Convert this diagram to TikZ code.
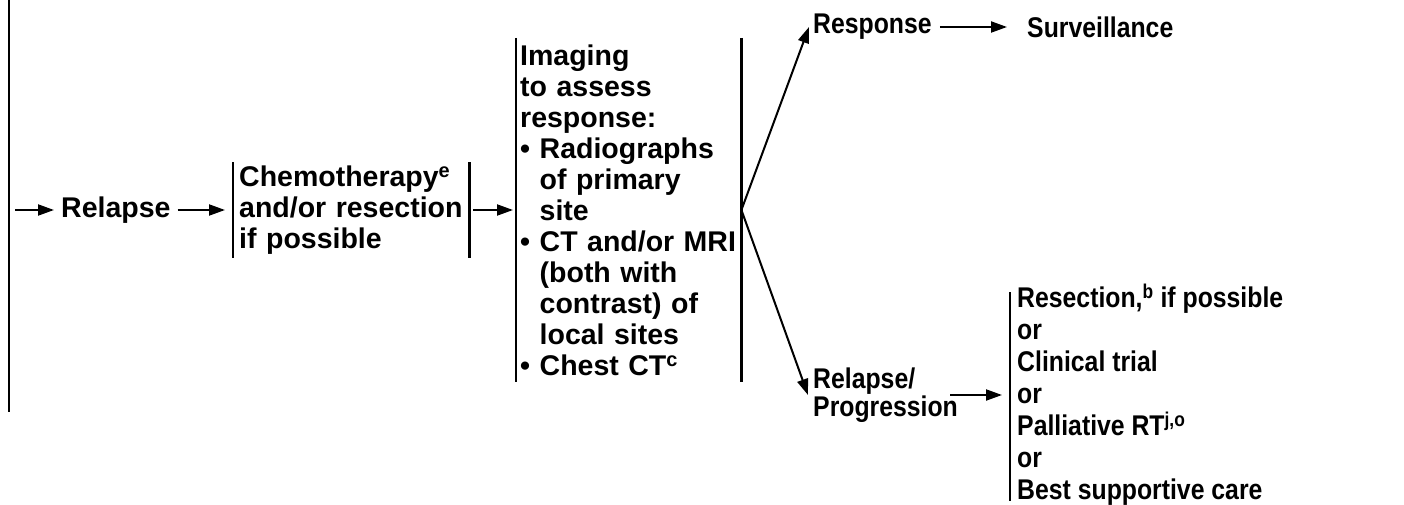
\documentclass[tikz,border=0pt]{standalone}
\usepackage{fontspec}
\setmainfont{Liberation Sans}
\newfontfamily\narrowsans{Liberation Sans}[FakeStretch=0.87]
\usetikzlibrary{arrows.meta}

\tikzset{
  txt/.style={inner sep=0pt, align=left, font=\fontsize{28.5}{31}\selectfont\bfseries},
  ntxt/.style={txt, font=\narrowsans\fontsize{28.5}{31}\selectfont\bfseries},
  arr/.style={line width=2pt, -{Triangle[length=16pt,width=11pt]}},
  bar/.style={line width=2.4pt},
}
\newcommand{\ind}{\hphantom{\textbullet\ }}

\begin{document}
\begin{tikzpicture}[x=1pt,y=1pt,yscale=-1]
\useasboundingbox (0,0) rectangle (1404,505);

%Straight Lines
\draw [bar] (9,0) -- (9,412);
\coordinate (entry) at (15,210);

% Text Node
\node [txt, inner xsep=7pt, anchor=west] (relapse) at (54,210) {Relapse};
% Text Node
\node [txt, inner xsep=6pt, anchor=west, text width=224pt, minimum height=95pt] (chemo) at (233,210) {Chemotherapy\textsuperscript{e}\\and/or resection\\if possible};
% Text Node
\node [txt, inner xsep=4pt, anchor=west, text width=217pt, minimum height=344pt] (img) at (516,210) {Imaging\\to assess\\response:\\\textbullet\ Radiographs\\\ind of primary\\\ind site\\\textbullet\ CT and/or MRI\\\ind (both with\\\ind contrast) of\\\ind local sites\\\textbullet\ Chest CT\textsuperscript{c}};
% Text Node
\node [ntxt, inner xsep=4pt, anchor=west] (resp) at (809,27) {Response};
% Text Node
\node [ntxt, anchor=west] (surv) at (1027,27) {Surveillance};
% Text Node
\node [ntxt, inner xsep=5pt, anchor=west, font=\narrowsans\fontsize{28.5}{28}\selectfont\bfseries] (prog) at (808,395) {Relapse/\\Progression};
% Text Node
\node [ntxt, inner xsep=7pt, anchor=west, font=\narrowsans\fontsize{28.5}{32}\selectfont\bfseries] (opts) at (1010,395) {Resection,\textsuperscript{b} if possible\\or\\Clinical trial\\or\\Palliative RT\textsuperscript{j,o}\\or\\Best supportive care};

%Straight Lines
\draw [bar] (chemo.north west) -- (chemo.south west);
\draw [bar] (chemo.north east) -- (chemo.south east);
\draw [bar] (img.north west) -- (img.south west);
\draw [bar] (img.north east) -- (img.south east);
\draw [bar, shorten <=8pt, shorten >=5pt] (opts.north west) -- (opts.south west);

%Straight Lines
\draw [arr] (entry) -- (relapse.west);
\draw [arr, shorten >=8pt] (relapse) -- (chemo);
\draw [arr, shorten <=4pt, shorten >=3pt] (chemo) -- (img);
\draw [arr] (img.east) -- (resp.west);
\draw [arr] (img.east) -- (prog.west);
\draw [arr, shorten <=4pt, shorten >=20pt] (resp) -- (surv);
\draw [arr, shorten >=8pt] ([xshift=-13pt]prog.east) -- (opts.west);

\end{tikzpicture}
\end{document}
